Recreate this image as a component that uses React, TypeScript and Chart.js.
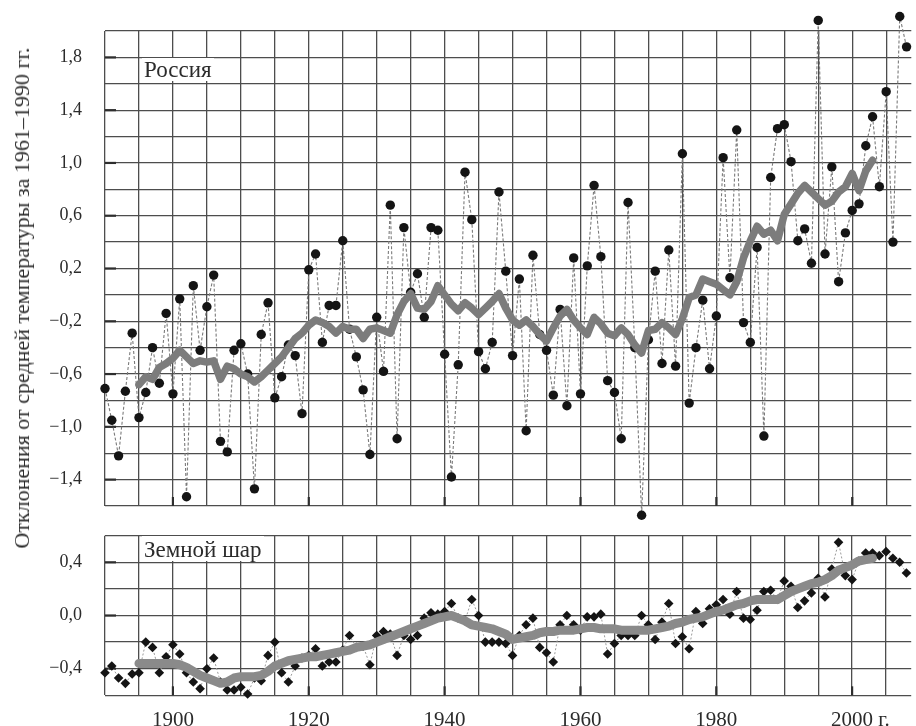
import React, { useEffect, useRef } from 'react';
import { Chart, registerables } from 'chart.js';

Chart.register(...registerables);

// ---------- DATA ----------
const START_YEAR = 1890;
const SMOOTH_START_YEAR = 1895;

// Russia, annual anomalies 1890–2008
const russiaAnomaly = [
  -0.71, -0.95, -1.22, -0.73, -0.29, -0.93, -0.74, -0.40, -0.67, -0.14,
  -0.75, -0.03, -1.53, 0.07, -0.42, -0.09, 0.15, -1.11, -1.19, -0.42,
  -0.37, -0.60, -1.47, -0.30, -0.06, -0.78, -0.62, -0.38, -0.46, -0.90,
  0.19, 0.31, -0.36, -0.08, -0.08, 0.41, -0.26, -0.47, -0.72, -1.21,
  -0.17, -0.58, 0.68, -1.09, 0.51, 0.02, 0.16, -0.17, 0.51, 0.49,
  -0.45, -1.38, -0.53, 0.93, 0.57, -0.43, -0.56, -0.36, 0.78, 0.18,
  -0.46, 0.12, -1.03, 0.30, -0.30, -0.42, -0.76, -0.11, -0.84, 0.28,
  -0.75, 0.22, 0.83, 0.29, -0.65, -0.74, -1.09, 0.70, -0.40, -1.67,
  -0.34, 0.18, -0.52, 0.34, -0.54, 1.07, -0.82, -0.40, -0.04, -0.56,
  -0.16, 1.04, 0.13, 1.25, -0.21, -0.36, 0.36, -1.07, 0.89, 1.26,
  1.29, 1.01, 0.41, 0.50, 0.24, 2.08, 0.31, 0.97, 0.10, 0.47,
  0.64, 0.69, 1.13, 1.35, 0.82, 1.54, 0.40, 2.11, 1.88,
];

// Russia, smoothed curve 1895–2003
const russiaSmoothed = [
  -0.68, -0.62, -0.64, -0.55, -0.52,
  -0.48, -0.42, -0.47, -0.52, -0.50, -0.51, -0.50, -0.64, -0.54, -0.56,
  -0.60, -0.62, -0.66, -0.62, -0.57, -0.52, -0.47, -0.40, -0.33, -0.29,
  -0.23, -0.19, -0.21, -0.24, -0.29, -0.24, -0.26, -0.26, -0.33, -0.26,
  -0.25, -0.27, -0.29, -0.15, -0.05, 0.01, -0.10, -0.11, -0.05, 0.07,
  0.00, -0.07, -0.12, -0.06, -0.10, -0.15, -0.10, -0.05, 0.01, -0.10,
  -0.19, -0.23, -0.19, -0.24, -0.30, -0.35, -0.25, -0.16, -0.11, -0.19,
  -0.25, -0.30, -0.17, -0.22, -0.29, -0.31, -0.25, -0.30, -0.38, -0.44,
  -0.27, -0.26, -0.21, -0.25, -0.30, -0.18, -0.02, 0.00, 0.12, 0.10,
  0.08, 0.04, 0.00, 0.10, 0.28, 0.41, 0.52, 0.46, 0.49, 0.41,
  0.61, 0.69, 0.77, 0.83, 0.78, 0.73, 0.68, 0.71, 0.78, 0.82,
  0.92, 0.79, 0.94, 1.02,
];

// Globe, annual anomalies 1890–2008
const globalAnomaly = [
  -0.43, -0.38, -0.47, -0.51, -0.44, -0.43, -0.20, -0.24, -0.43, -0.31,
  -0.22, -0.29, -0.43, -0.50, -0.55, -0.40, -0.32, -0.50, -0.56, -0.56,
  -0.54, -0.59, -0.47, -0.49, -0.30, -0.20, -0.43, -0.50, -0.38, -0.32,
  -0.30, -0.25, -0.38, -0.35, -0.35, -0.26, -0.15, -0.24, -0.23, -0.37,
  -0.15, -0.12, -0.14, -0.30, -0.15, -0.18, -0.15, -0.02, 0.02, 0.01,
  0.03, 0.09, -0.02, -0.04, 0.12, 0.00, -0.20, -0.20, -0.20, -0.21,
  -0.30, -0.15, -0.07, -0.02, -0.24, -0.28, -0.35, -0.07, 0.00, -0.07,
  -0.11, -0.01, -0.01, 0.01, -0.29, -0.21, -0.15, -0.15, -0.15, 0.00,
  -0.07, -0.18, -0.05, 0.09, -0.21, -0.16, -0.25, 0.03, -0.06, 0.05,
  0.08, 0.12, 0.01, 0.18, -0.02, -0.03, 0.04, 0.18, 0.19, 0.12,
  0.26, 0.22, 0.06, 0.11, 0.17, 0.28, 0.14, 0.35, 0.55, 0.30,
  0.27, 0.41, 0.47, 0.47, 0.45, 0.48, 0.43, 0.40, 0.32,
];

// Globe, smoothed curve 1895–2003
const globalSmoothed = [
  -0.36, -0.36, -0.36, -0.36, -0.36,
  -0.36, -0.37, -0.39, -0.42, -0.45, -0.47, -0.49, -0.51, -0.50, -0.47,
  -0.46, -0.46, -0.46, -0.45, -0.42, -0.38, -0.36, -0.34, -0.33, -0.32,
  -0.31, -0.31, -0.30, -0.29, -0.28, -0.27, -0.26, -0.24, -0.23, -0.22,
  -0.20, -0.18, -0.16, -0.14, -0.12, -0.10, -0.08, -0.06, -0.04, -0.02,
  -0.01, 0.00, -0.02, -0.04, -0.07, -0.08, -0.09, -0.10, -0.12, -0.14,
  -0.18, -0.17, -0.16, -0.15, -0.13, -0.12, -0.12, -0.11, -0.11, -0.11,
  -0.10, -0.09, -0.09, -0.10, -0.10, -0.10, -0.11, -0.11, -0.11, -0.11,
  -0.11, -0.10, -0.09, -0.08, -0.06, -0.05, -0.03, -0.02, -0.01, 0.01,
  0.03, 0.04, 0.06, 0.08, 0.09, 0.11, 0.12, 0.12, 0.12, 0.12,
  0.15, 0.18, 0.20, 0.22, 0.24, 0.25, 0.27, 0.30, 0.34, 0.36,
  0.38, 0.41, 0.42, 0.43,
];

const X_MIN = 1890;
const X_MAX = 2008.7;
const X_STEP = 5;
const xLabelYears = [1900, 1920, 1940, 1960, 1980, 2000];
const LAST_YEAR_SUFFIX = ' г.';

const russiaYRange = [-1.6, 2.0];
const russiaYLabels = [1.8, 1.4, 1.0, 0.6, 0.2, -0.2, -0.6, -1.0, -1.4];
const globalYRange = [-0.6, 0.6];
const globalYLabels = [0.4, 0.0, -0.4];
const Y_STEP = 0.2;

const yAxisTitle = 'Отклонения от средней температуры за 1961–1990 гг.';
const russiaLabel = 'Россия';
const globalLabel = 'Земной шар';

// ---------- STYLE ----------
const SERIF = '"Liberation Serif", "DejaVu Serif", "Times New Roman", serif';
const GRID = '#4d4d4d';
const TEXT = '#2b2b2b';

const fmt = (v: number) => {
  const s = Math.abs(v).toFixed(1).replace('.', ',');
  return v < -1e-9 ? '\u2212' + s : s;
};
const near = (a: number, b: number) => Math.abs(a - b) < 1e-6;

const innerTicks = {
  id: 'innerTicks',
  beforeDatasetsDraw(chart: any, _args: any, opts: any) {
    const { ctx, chartArea, scales } = chart;
    ctx.save();
    ctx.strokeStyle = '#2e2e2e';
    ctx.lineWidth = 2.2;
    (opts.yValues || []).forEach((v: number) => {
      const y = scales.y.getPixelForValue(v);
      ctx.beginPath();
      ctx.moveTo(chartArea.left, y);
      ctx.lineTo(chartArea.left + 11, y);
      ctx.stroke();
    });
    (opts.xValues || []).forEach((v: number) => {
      const x = scales.x.getPixelForValue(v);
      ctx.beginPath();
      ctx.moveTo(x, chartArea.bottom);
      ctx.lineTo(x, chartArea.bottom - 9);
      ctx.stroke();
    });
    ctx.restore();
  },
};

// Chart.js skips point markers lying outside the chart area; draw those too.
const outsidePoints = {
  id: 'outsidePoints',
  afterDatasetsDraw(chart: any) {
    const { ctx, chartArea: a } = chart;
    const meta = chart.getDatasetMeta(1);
    const big = { left: -1e5, top: -1e5, right: 1e5, bottom: 1e5 };
    meta.data.forEach((el: any) => {
      const r = (el.options && el.options.radius) || 0;
      const inside = el.x > a.left - r && el.x < a.right + r && el.y > a.top - r && el.y < a.bottom + r;
      if (!inside) el.draw(ctx, big);
    });
  },
};

const yearSuffix = {
  id: 'yearSuffix',
  afterDraw(chart: any, _args: any, opts: any) {
    if (!opts.show) return;
    const { ctx, scales } = chart;
    const xs = scales.x;
    const last = xLabelYears[xLabelYears.length - 1];
    const x = xs.getPixelForValue(last);
    ctx.save();
    ctx.font = `${opts.size}px ${SERIF}`;
    const w = ctx.measureText(String(last)).width;
    ctx.fillStyle = TEXT;
    ctx.textAlign = 'left';
    ctx.textBaseline = 'middle';
    ctx.fillText(LAST_YEAR_SUFFIX, x + w / 2, xs.top + opts.padding + (opts.size * 1.2) / 2);
    ctx.restore();
  },
};

function makeConfig(opts: {
  annual: number[];
  smooth: number[];
  yRange: number[];
  yLabels: number[];
  pointStyle: string;
  pointRadius: number;
  smoothWidth: number;
  smoothColor: string;
  connector: any;
  padTop: number;
  xHeight: number;
  showX: boolean;
}) {
  const X_FONT = 21;
  const X_PAD = 13;
  return {
    type: 'line',
    data: {
      datasets: [
        {
          data: opts.smooth.map((v, i) => ({ x: SMOOTH_START_YEAR + i, y: v })),
          borderColor: opts.smoothColor,
          borderWidth: opts.smoothWidth,
          borderJoinStyle: 'round',
          borderCapStyle: 'round',
          pointRadius: 0,
          pointHoverRadius: 0,
          tension: 0,
          order: 0,
          clip: false,
        },
        {
          data: opts.annual.map((v, i) => ({ x: START_YEAR + i, y: v })),
          ...opts.connector,
          pointStyle: opts.pointStyle,
          pointRadius: opts.pointRadius,
          pointHoverRadius: opts.pointRadius,
          pointBackgroundColor: '#141414',
          pointBorderColor: '#141414',
          pointBorderWidth: 0,
          tension: 0,
          order: 1,
          clip: false,
        },
      ],
    },
    options: {
      responsive: false,
      animation: false,
      events: [],
      layout: { padding: { top: opts.padTop, left: 0, right: 0, bottom: 0 } },
      plugins: {
        legend: { display: false },
        tooltip: { enabled: false },
        innerTicks: { yValues: opts.yLabels, xValues: xLabelYears },
        yearSuffix: { show: opts.showX, size: X_FONT, padding: X_PAD },
      },
      scales: {
        x: {
          type: 'linear',
          min: X_MIN,
          max: X_MAX,
          grid: { color: GRID, lineWidth: 1.3, drawTicks: false },
          border: { display: false },
          ticks: {
            display: opts.showX,
            stepSize: X_STEP,
            includeBounds: false,
            autoSkip: false,
            maxRotation: 0,
            minRotation: 0,
            padding: X_PAD,
            color: TEXT,
            font: { family: SERIF, size: X_FONT },
            callback: (v: number) => (xLabelYears.some((y) => near(y, v)) ? String(v) : ''),
          },
          afterFit: (s: any) => {
            s.height = opts.xHeight;
            s.paddingLeft = 0;
            s.paddingRight = 0;
          },
        },
        y: {
          min: opts.yRange[0],
          max: opts.yRange[1],
          grid: { color: GRID, lineWidth: 1.3, drawTicks: false },
          border: { display: false },
          ticks: {
            stepSize: Y_STEP,
            autoSkip: false,
            padding: 23,
            color: TEXT,
            font: { family: SERIF, size: 18 },
            callback: (v: number) => (opts.yLabels.some((y) => near(y, v)) ? fmt(v) : ''),
          },
          afterFit: (s: any) => {
            s.width = 105;
            s.paddingTop = 0;
            s.paddingBottom = 0;
          },
        },
      },
    },
    plugins: [innerTicks, outsidePoints, yearSuffix],
  };
}

export default function App() {
  const topRef = useRef<HTMLCanvasElement>(null);
  const botRef = useRef<HTMLCanvasElement>(null);

  useEffect(() => {
    const top = new Chart(
      topRef.current as HTMLCanvasElement,
      makeConfig({
        annual: russiaAnomaly,
        smooth: russiaSmoothed,
        yRange: russiaYRange,
        yLabels: russiaYLabels,
        pointStyle: 'circle',
        pointRadius: 4.7,
        smoothWidth: 7.5,
        smoothColor: '#7c7c7c',
        connector: { borderColor: '#7a7a7a', borderWidth: 1.1, borderDash: [3, 2] },
        padTop: 31,
        xHeight: 14,
        showX: false,
      }) as any
    );
    const bot = new Chart(
      botRef.current as HTMLCanvasElement,
      makeConfig({
        annual: globalAnomaly,
        smooth: globalSmoothed,
        yRange: globalYRange,
        yLabels: globalYLabels,
        pointStyle: 'rectRot',
        pointRadius: 4.8,
        smoothWidth: 9,
        smoothColor: '#8a8a8a',
        connector: { borderColor: '#9a9a9a', borderWidth: 1, borderDash: [2, 2] },
        padTop: 15.7,
        xHeight: 30.7,
        showX: true,
      }) as any
    );
    return () => {
      top.destroy();
      bot.destroy();
    };
  }, []);

  const labelStyle: React.CSSProperties = {
    position: 'absolute',
    background: '#fff',
    fontFamily: SERIF,
    fontSize: 23,
    lineHeight: '23px',
    color: TEXT,
    whiteSpace: 'nowrap',
    padding: '0 2px',
  };

  return (
    <div style={{ position: 'absolute', left: 0, top: 0, width: 916, height: 726, overflow: 'hidden', background: '#fff' }}>
      <canvas ref={topRef} width={916} height={520} style={{ position: 'absolute', left: 0, top: 0 }} />
      <canvas ref={botRef} width={916} height={206} style={{ position: 'absolute', left: 0, top: 520 }} />
      <div style={{ ...labelStyle, left: 142, top: 58 }}>{russiaLabel}</div>
      <div style={{ ...labelStyle, left: 142, top: 536, paddingTop: 2 }}>{globalLabel}</div>
      <div
        style={{
          position: 'absolute',
          left: 22,
          top: 298,
          transform: 'translate(-50%, -50%) rotate(-90deg)',
          fontFamily: SERIF,
          fontSize: 22,
          lineHeight: '22px',
          color: TEXT,
          whiteSpace: 'nowrap',
        }}
      >
        {yAxisTitle}
      </div>
    </div>
  );
}
